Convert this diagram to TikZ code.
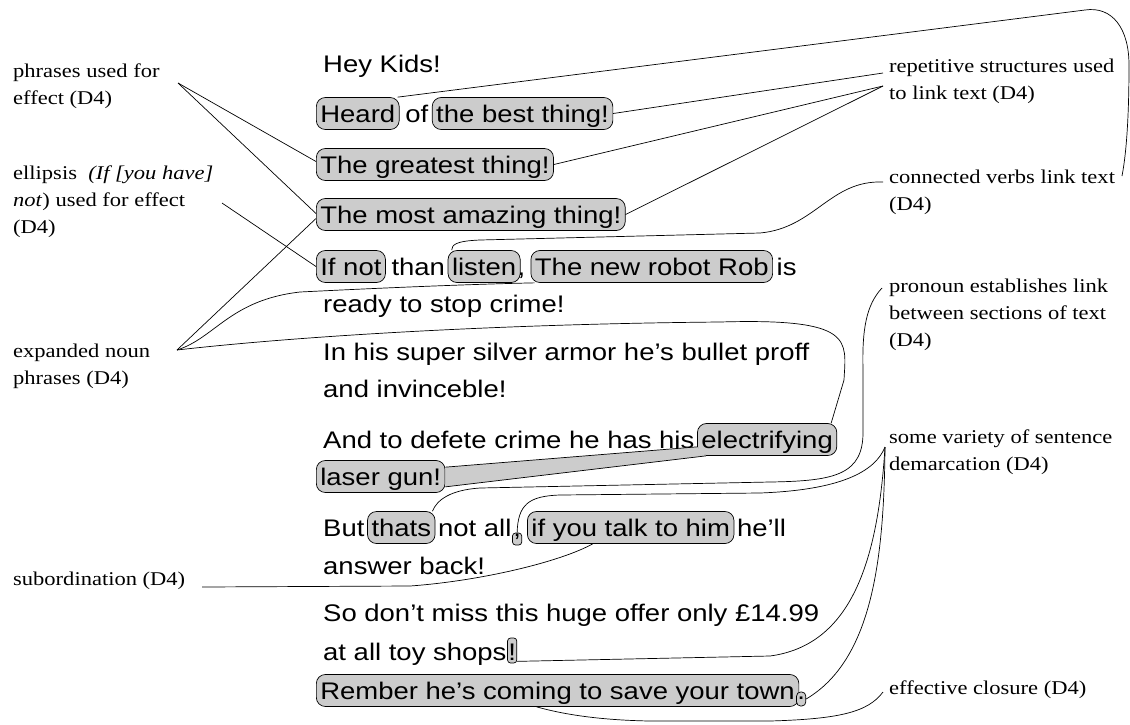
\documentclass[tikz,border=0pt]{standalone}
\usepackage{fontspec}
\newfontfamily\adsans[FakeStretch=1.145]{Liberation Sans}
\newfontfamily\notefont[FakeStretch=1.155]{Liberation Serif}
\usetikzlibrary{positioning,calc}
\tikzset{>=stealth}
\tikzset{
  adtext/.style={font=\adsans\fontsize{24}{30}\selectfont,inner xsep=1.5pt,inner ysep=3.5pt,
    text height=21pt,text depth=4pt,anchor=base west},
  hilite/.style={adtext,draw,fill=gray!40,rounded corners=9pt,inner xsep=4pt,line width=.7pt},
  punct/.style={adtext,draw,fill=gray!40,rounded corners=3pt,inner xsep=.8pt,inner ysep=1pt,line width=.7pt},
  note/.style={font=\notefont\fontsize{19.5}{27}\selectfont,align=left,anchor=north west,inner sep=0pt},
  link/.style={line width=.7pt}
}

\begin{document}
\begin{tikzpicture}[x=1pt,y=-1pt]
\useasboundingbox (0,0) rectangle (1130,724);
% the advert
\node[adtext] (hey) at (321.5,72) {Hey Kids!};
\node[hilite] (heard) at (316,122) {Heard};
\node[adtext] (of) at ([xshift=4pt]heard.base east) {of};
\node[hilite] (best) at ([xshift=2pt]of.base east) {the best thing!};
\node[hilite] (greatest) at (316,173) {The greatest thing!};
\node[hilite] (amazing) at (316,223) {The most amazing thing!};
\node[hilite] (ifnot) at (316,275) {If not};
\node[adtext] (than) at ([xshift=4pt]ifnot.base east) {than};
\node[hilite] (listen) at ([xshift=1pt]than.base east) {listen};
\node[adtext,inner xsep=0pt] (comma1) at ([xshift=-3pt]listen.base east) {,};
\node[hilite] (robot) at ([xshift=5pt]comma1.base east) {The new robot Rob};
\node[adtext] (is) at ([xshift=2pt]robot.base east) {is};
\node[adtext] (ready) at (321.5,312) {ready to stop crime!};
\node[adtext] (armor) at (321.5,360) {In his super silver armor he’s bullet proff};
\node[adtext] (invince) at (321.5,397) {and invinceble!};
\node[adtext] (defete) at (321.5,448) {And to defete crime he has his};
\node[hilite] (elec) at ([xshift=1pt]defete.base east) {electrifying};
\node[hilite] (laser) at (316,485) {laser gun!};
\node[adtext] (but) at (321.5,536) {But};
\node[hilite] (thats) at ([xshift=1pt]but.base east) {thats};
\node[adtext] (notall) at ([xshift=1pt]thats.base east) {not all};
\node[punct,text height=2pt,text depth=8pt] (comma2) at ([xshift=-1pt]notall.base east) {,};
\node[hilite] (talk) at ([xshift=5pt]comma2.base east) {if you talk to him};
\node[adtext] (hell) at ([xshift=1pt]talk.base east) {he’ll};
\node[adtext] (answer) at (321.5,574) {answer back!};
\node[adtext] (offer) at (321.5,621) {So don’t miss this huge offer only £14.99};
\node[adtext] (shops) at (321.5,660) {at all toy shops};
\node[punct,text height=21pt,text depth=2pt] (excl) at ([xshift=-1pt]shops.base east) {!};
\node[hilite] (rember) at (316,699) {Rember he’s coming to save your town};
\node[punct,text height=6pt,text depth=6pt,rounded corners=4pt] (stop) at ([xshift=-3pt]rember.base east) {.};
% notes
\node[note] (phrases) at (13,64) {phrases used for\\effect (D4)};
\node[note] (ellipsis) at (13,166) {ellipsis\ \ \textit{(If [you have]}\\\textit{not}) used for effect\\(D4)};
\node[note] (expanded) at (13,344) {expanded noun\\phrases (D4)};
\node[note] (subord) at (13,572) {subordination (D4)};
\node[note] (repet) at (889,59) {repetitive structures used\\to link text (D4)};
\node[note] (connect) at (889,170) {connected verbs link text\\(D4)};
\node[note] (pronoun) at (889,279) {pronoun establishes link\\between sections of text\\(D4)};
\node[note] (variety) at (889,430) {some variety of sentence\\demarcation (D4)};
\node[note] (closure) at (889,681) {effective closure (D4)};
\coordinate (phrP) at (178,83);
\coordinate (ellP) at (222,203);
\coordinate (expP) at (177,350);
\coordinate (subP) at (202,587);
\coordinate (repA) at (883,73);
\coordinate (repB) at (883,86);
\coordinate (conP) at (883,182);
\coordinate (conQ) at (1122,176);
\coordinate (proP) at (882,288);
\coordinate (varP) at (885,447);
\coordinate (cloP) at (883,692);
% laser gun tail
\fill[gray!40] ([yshift=-7pt]laser.north east) -- ([yshift=9pt]elec.south west) -- ([xshift=9pt]elec.south west) -- ([yshift=6pt]laser.south east) -- cycle;
\draw[link] ([yshift=-7pt]laser.north east) -- ([yshift=9pt]elec.south west);
\draw[link] ([yshift=6pt]laser.south east) -- ([xshift=9pt]elec.south west);
% links
\draw[link] (phrP) -- ([yshift=3pt]greatest.west);
\draw[link] (phrP) -- ([yshift=1pt]amazing.west);
\draw[link] (ellP) -- (ifnot.west);
\draw[link] (expP) -- ([yshift=-4pt]amazing.west);
\draw[link] (expP) .. controls (215,338) and (230,300) .. (300,292) .. controls (400,287) and (480,284) .. ([xshift=4pt]robot.south west);
\draw[link] (expP) .. controls (300,336) and (500,324) .. (720,322) .. controls (855,318) and (846,340) .. (844,380) -- ([xshift=-6pt]elec.north east);
\draw[link] (repA) -- (best.east);
\draw[link] (repB) -- (greatest.east);
\draw[link] (repB) -- (amazing.east);
\draw[link] (conP) .. controls (830,180) and (815,228) .. (760,233) -- (480,240) .. controls (455,241) and (452,245) .. ([xshift=4pt]listen.north west);
\draw[link] ([xshift=-2pt]heard.north east) -- (1085,10) .. controls (1112,6) and (1129,28) .. (1129,65) .. controls (1129,110) and (1127,150) .. (conQ);
\draw[link] (proP) .. controls (866,305) and (862,330) .. (863,370) -- (863,430) .. controls (864,475) and (835,481) .. (770,482) -- (480,488) .. controls (450,490) and (437,500) .. ([xshift=-3pt]thats.north east);
\draw[link] (varP) .. controls (875,472) and (840,490) .. (760,493) -- (560,495) .. controls (528,496) and (518,505) .. (comma2.north);
\draw[link] (varP) .. controls (878,560) and (852,645) .. (770,656) -- ([yshift=2pt]excl.south east);
\draw[link] (varP) .. controls (884,560) and (872,660) .. (stop.east);
\draw[link] (cloP) .. controls (868,712) and (840,719) .. (770,721) -- (650,721) .. controls (590,720) and (555,712) .. ([xshift=-21pt]rember.south);
\draw[link] (subP) -- (410,586) .. controls (480,581) and (560,562) .. ([xshift=-38pt]talk.south);
\end{tikzpicture}
\end{document}
